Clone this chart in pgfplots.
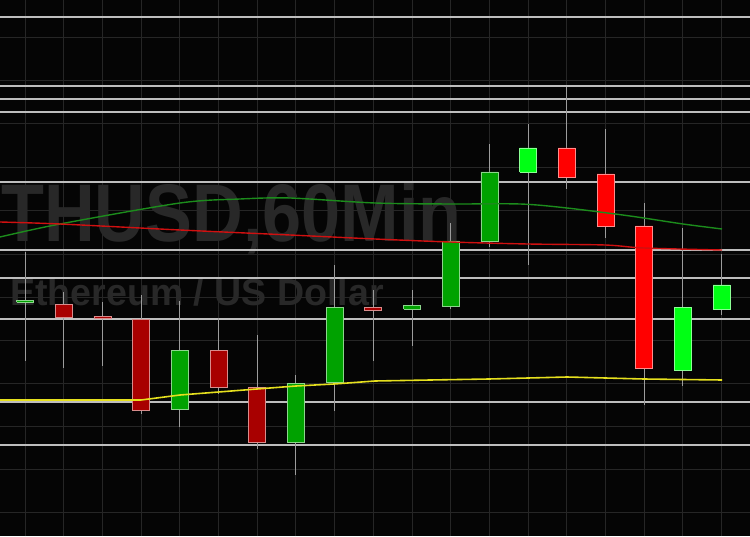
\documentclass[border=0pt]{standalone}
\usepackage{pgfplots}
\pgfplotsset{compat=1.18}
\usepackage{fontspec}
\setmainfont{Liberation Sans}
\newfontfamily\wmfont[FakeStretch=0.86]{Liberation Sans}

\definecolor{dgreen}{HTML}{00A200}
\definecolor{dred}{HTML}{A80000}
\definecolor{lgreen}{HTML}{00FF14}
\definecolor{lred}{HTML}{FF0000}
\definecolor{wm}{HTML}{282828}
\definecolor{dimgrid}{HTML}{262626}
\definecolor{level}{HTML}{BEBEBE}
\definecolor{wickc}{HTML}{9C9C9C}
\definecolor{magreen}{HTML}{1C8C1C}
\definecolor{mared}{HTML}{D01010}
\definecolor{mayellow}{HTML}{E6E01E}

% x, open, high, low, close, colour
\newcommand\candle[6]{%
  \addplot[wickc, line width=1pt, forget plot] coordinates {(#1,#4) (#1,#3)};
  \pgfmathsetmacro\xl{#1-8.5}\pgfmathsetmacro\xr{#1+8.5}%
  \edef\temp{\noexpand\addplot[fill=#6, draw=#6!45!white, line width=0.8pt, forget plot]
    coordinates {(\xl,#2) (\xr,#2) (\xr,#5) (\xl,#5) (\xl,#2)};}\temp
}

\begin{document}
\begin{tikzpicture}
\begin{axis}[
  name=ax,
  width=750bp, height=536bp,
  scale only axis,
  xmin=0, xmax=750, ymin=0, ymax=536,
  axis line style={draw=none},
  axis background/.style={fill=black!98},
  tick style={draw=none},
  xticklabels={}, yticklabels={},
  xtick={25,63.7,102.4,141.1,179.8,218.5,257.2,295.9,334.6,373.3,412,450.7,489.4,528.1,566.8,605.5,644.2,682.9,721.6},
  ytick={24,67,110,153,196,239,282,325,368,412,455,498},
  grid=major,
  major grid style={dimgrid, line width=1pt},
  clip=false,
]
% watermark
\node[anchor=base east, inner sep=0, text=wm] at (axis cs:462,294)
  {\wmfont\bfseries\fontsize{82}{82}\selectfont ETHUSD,60Min};
\node[anchor=base west, inner sep=0, text=wm] at (axis cs:10,231)
  {\bfseries\fontsize{37.7}{38}\selectfont Ethereum / US Dollar};

% horizontal levels
\pgfplotsinvokeforeach{519,450,437,424,354,286,258,217,134,91}{
  \addplot[level, line width=1.3pt, forget plot] coordinates {(0,#1) (750,#1)};
}

% candles
\candle{25}{234}{284}{175}{236}{dgreen}
\candle{63.7}{232}{244}{168}{219}{dred}
\candle{102.4}{220}{234}{170}{218}{dred}
\candle{141.1}{217}{241}{122}{126}{dred}
\candle{179.8}{127}{235}{109}{186}{dgreen}
\candle{218.5}{186}{218}{142}{149}{dred}
\candle{257.2}{149}{201}{87}{94}{dred}
\candle{295.9}{94}{161}{61}{153}{dgreen}
\candle{334.6}{154}{271}{125}{229}{dgreen}
\candle{373.3}{229}{246}{175}{226}{dred}
\candle{412}{227}{246}{190}{231}{dgreen}
\candle{450.7}{230}{313}{227}{295}{dgreen}
\candle{489.4}{295}{392}{289}{364}{dgreen}
\candle{528.1}{364}{412}{271}{388}{lgreen}
\candle{566.8}{388}{449}{347}{359}{lred}
\candle{605.5}{362}{407}{298}{310}{lred}
\candle{644.2}{310}{333}{131}{168}{lred}
\candle{682.9}{166}{308}{150}{229}{lgreen}
\candle{721.6}{227}{282}{221}{251}{lgreen}

% moving averages
\addplot[magreen, line width=1.4pt, smooth] coordinates {
(0,299) (60,312) (180,333) (240,337) (290,338) (375,333) (450,332) (520,332)
(567,328) (630,320) (683,312) (722,307)};
\addplot[mared, line width=1.4pt, smooth] coordinates {
(0,314) (60,312) (180,306) (290,301) (375,297) (450,294) (528,292) (605,291)
(644,288) (722,286)};
\addplot[mayellow, line width=1.6pt] coordinates {
(0,136) (141,136) (180,141) (257,147) (296,150) (334,152) (375,155) (430,156)
(489,157) (567,159) (644,157) (722,156)};
\end{axis}
\pgfresetboundingbox
\useasboundingbox (ax.south west) rectangle (ax.north east);
\end{tikzpicture}
\end{document}
